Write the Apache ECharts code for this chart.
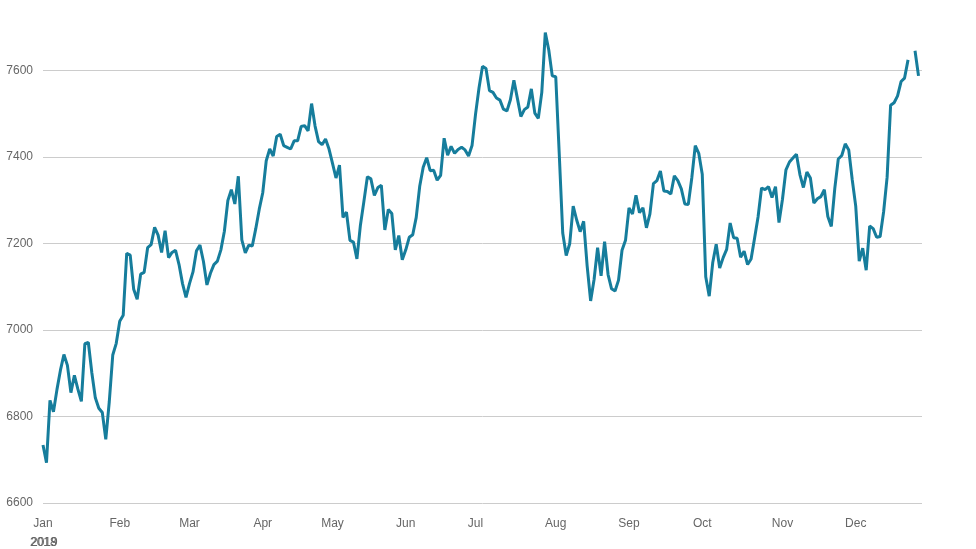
<!DOCTYPE html>
<html>
<head>
<meta charset="utf-8">
<script src="https://cdn.jsdelivr.net/npm/echarts@6/dist/echarts.min.js"></script>
<style>
  html, body { margin: 0; padding: 0; background: #fff; }
  #chart { width: 976px; height: 549px; }
</style>
</head>
<body>
<div id="chart"></div>
<script>
// trading days of 2019, one list per month
const monthNames = ['Jan', 'Feb', 'Mar', 'Apr', 'May', 'Jun', 'Jul', 'Aug', 'Sep', 'Oct', 'Nov', 'Dec'];
const janDays = [2,3,4,7,8,9,10,11,14,15,16,17,18,21,22,23,24,25,28,29,30,31];
const febDays = [1,4,5,6,7,8,11,12,13,14,15,18,19,20,21,22,25,26,27,28];
const marDays = [1,4,5,6,7,8,11,12,13,14,15,18,19,20,21,22,25,26,27,28,29];
const aprDays = [1,2,3,4,5,8,9,10,11,12,15,16,17,18,23,24,25,26,29,30];
const mayDays = [1,2,3,7,8,9,10,13,14,15,16,17,20,21,22,23,24,28,29,30,31];
const junDays = [3,4,5,6,7,10,11,12,13,14,17,18,19,20,21,24,25,26,27,28];
const julDays = [1,2,3,4,5,8,9,10,11,12,15,16,17,18,19,22,23,24,25,26,29,30,31];
const augDays = [1,2,5,6,7,8,9,12,13,14,15,16,19,20,21,22,23,27,28,29,30];
const sepDays = [2,3,4,5,6,9,10,11,12,13,16,17,18,19,20,23,24,25,26,27,30];
const octDays = [1,2,3,4,7,8,9,10,11,14,15,16,17,18,21,22,23,24,25,28,29,30,31];
const novDays = [1,4,5,6,7,8,11,12,13,14,15,18,19,20,21,22,25,26,27,28,29];
const decDays = [2,3,4,5,6,9,10,11,12,13,16,17,18,19,20,23,24,27,30,31];

// closing values
const janVals = [6734,6693,6837,6811,6862,6907,6943,6918,6855,6895,6863,6835,6968,6971,6901,6843,6819,6809,6747,6834,6942,6969];
const febVals = [7020,7034,7177,7173,7094,7071,7129,7133,7190,7197,7237,7219,7179,7229,7167,7179,7184,7151,7107,7075];
const marVals = [7107,7134,7183,7196,7158,7104,7131,7151,7159,7185,7228,7299,7324,7291,7355,7208,7178,7196,7194,7234,7279];
const aprVals = [7317,7391,7418,7402,7447,7452,7426,7422,7418,7437,7437,7470,7472,7460,7523,7471,7435,7428,7441,7418];
const mayVals = [7385,7351,7381,7260,7272,7207,7203,7164,7242,7297,7354,7349,7311,7329,7334,7231,7278,7269,7185,7218,7162];
const junVals = [7185,7214,7220,7260,7332,7376,7398,7368,7369,7346,7357,7443,7404,7424,7408,7417,7422,7416,7402,7426];
const julVals = [7498,7559,7609,7604,7553,7549,7536,7531,7510,7506,7532,7577,7535,7493,7509,7515,7557,7501,7489,7549,7687,7647,7587];
const augVals = [7585,7407,7224,7172,7199,7286,7254,7227,7251,7148,7067,7117,7190,7125,7204,7128,7095,7090,7115,7184,7207];
const sepVals = [7282,7268,7311,7271,7282,7236,7268,7338,7345,7367,7321,7320,7314,7356,7345,7326,7291,7290,7351,7426,7408];
const octVals = [7360,7123,7078,7155,7198,7143,7167,7186,7247,7213,7212,7168,7182,7151,7164,7212,7261,7328,7324,7331,7306,7331,7248];
const novVals = [7302,7370,7388,7397,7406,7359,7329,7365,7351,7293,7303,7308,7324,7262,7239,7327,7395,7403,7430,7416,7347];
const decVals = [7286,7159,7189,7138,7240,7234,7214,7216,7273,7353,7519,7525,7541,7574,7582,7624,null,7645,7587,null];

const yTicks = [6600, 6800, 7000, 7200, 7400, 7600];

const allDays = [janDays, febDays, marDays, aprDays, mayDays, junDays, julDays, augDays, sepDays, octDays, novDays, decDays];
const allVals = [janVals, febVals, marVals, aprVals, mayVals, junVals, julVals, augVals, sepVals, octVals, novVals, decVals];

let dates = [];
let values = [];
let monthStart = {};
allDays.forEach((days, m) => {
    monthStart[dates.length] = monthNames[m];
    days.forEach((d, i) => {
        dates.push('2019-' + String(m + 1).padStart(2, '0') + '-' + String(d).padStart(2, '0'));
        values.push(allVals[m][i]);
    });
});

let chart = echarts.init(document.getElementById('chart'));
chart.setOption({
    animation: false,
    grid: {
        left: 43,
        right: 54,
        top: 27,
        bottom: 46
    },
    xAxis: {
        type: 'category',
        data: dates,
        boundaryGap: false,
        axisLine: { show: false },
        axisTick: { show: false },
        splitLine: { show: false },
        axisLabel: {
            interval: (index) => monthStart[index] !== undefined,
            formatter: (v, index) => monthStart[index] || '',
            color: '#666',
            fontSize: 12,
            fontFamily: 'Arial, sans-serif',
            margin: 15
        }
    },
    yAxis: {
        type: 'value',
        min: yTicks[0],
        max: 7700,
        interval: 200,
        axisLine: { show: false },
        axisTick: { show: false },
        axisLabel: {
            color: '#666',
            fontSize: 12,
            fontFamily: 'Arial, sans-serif',
            margin: 10,
            showMaxLabel: false,
            formatter: (v) => String(v)
        },
        splitLine: {
            show: true,
            showMaxLine: false,
            lineStyle: { color: '#cccccc', width: 1 }
        }
    },
    graphic: [
        // year labels under the first month (two overlapping labels)
        { type: 'text', left: 30, top: 537, style: { text: '2018', fill: '#666', font: '12px Arial, sans-serif' } },
        { type: 'text', left: 31, top: 537, style: { text: '2019', fill: '#666', font: '12px Arial, sans-serif' } }
    ],
    series: [
        {
            type: 'line',
            data: values,
            showSymbol: false,
            connectNulls: false,
            lineStyle: { color: '#167d9c', width: 3 },
            itemStyle: { color: '#167d9c' }
        }
    ]
});
</script>
</body>
</html>
